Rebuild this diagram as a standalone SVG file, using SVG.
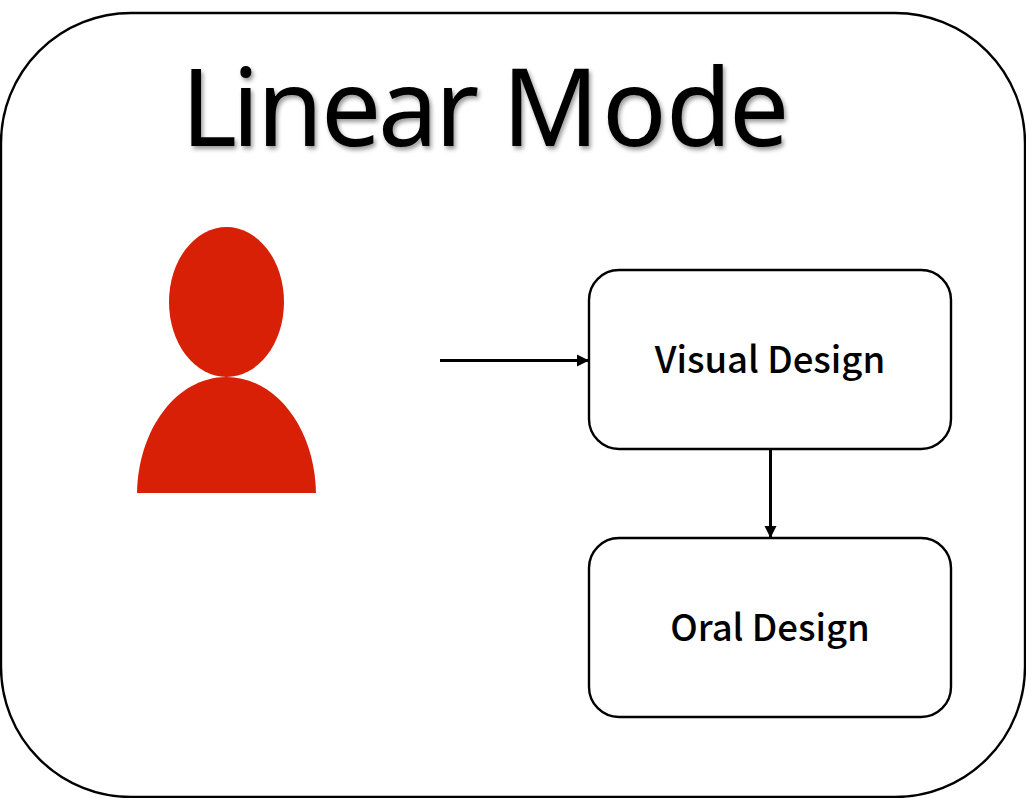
<svg xmlns="http://www.w3.org/2000/svg" width="1026" height="798" viewBox="0 0 1026 798">
<defs>
<style>
.box{fill:#fff;stroke:#000;stroke-width:2.4}
.lbl{font-family:"Noto Sans CJK SC","Noto Sans",sans-serif;font-weight:500;font-size:36.500px;text-anchor:middle;fill:#000}
.conn{stroke:#000;stroke-width:3;fill:none}
.person{fill:#d82006}
</style>
<marker id="arrow" markerUnits="userSpaceOnUse" markerWidth="13" markerHeight="14" refX="12" refY="7" orient="auto"><path d="M0,1 L12,7 L0,13 Z" fill="#000"/></marker>
<filter id="shadow" x="-5%" y="-20%" width="110%" height="140%"><feDropShadow dx="2" dy="3" stdDeviation="2" flood-color="#000" flood-opacity="0.4"/></filter>
</defs>
<rect width="1026" height="798" fill="#fff"/>
<g id="frame"><rect class="box" x="1" y="13" width="1024" height="784" rx="130" ry="130"/></g>
<g id="title"><text x="181 232 257 321 378 435 480 502 602 666 729" y="146" font-family="'Noto Sans','Noto Sans CJK SC',sans-serif" font-weight="400" font-size="107" fill="#000" filter="url(#shadow)">Linear Mode</text></g>
<g id="person">
<ellipse class="person" cx="226.500" cy="302" rx="57.500" ry="75"/>
<path class="person" d="M137,493 C138,430 176,377 226.500,377 C277,377 315,430 316,493 Z"/>
</g>
<g id="visual-design"><rect class="box" x="589" y="270" width="362" height="179" rx="30" ry="30"/><text class="lbl" x="770" y="373">Visual Design</text></g>
<g id="oral-design"><rect class="box" x="589" y="538" width="362" height="179" rx="30" ry="30"/><text class="lbl" x="770" y="641">Oral Design</text></g>
<g id="connectors">
<line class="conn" x1="440" y1="360.500" x2="589" y2="360.500" marker-end="url(#arrow)"/>
<line class="conn" x1="770.500" y1="449" x2="770.500" y2="538" marker-end="url(#arrow)"/>
</g>
</svg>
